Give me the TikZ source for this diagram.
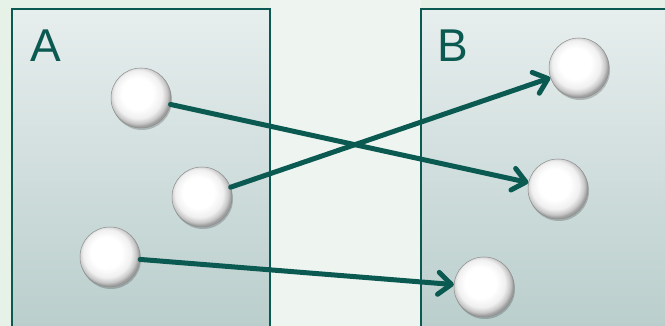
\documentclass[tikz,border=0pt]{standalone}
\usepackage{fontspec}
\setmainfont{Liberation Sans}
\usetikzlibrary{arrows.meta,shadows}
\definecolor{teal1}{HTML}{0B5A52}
\definecolor{bgcol}{HTML}{E6F1E8}
\definecolor{boxtop}{HTML}{E7EEEE}
\definecolor{boxbot}{HTML}{B8CDCB}
\pgfdeclareradialshading{pearl}{\pgfpoint{-4bp}{5bp}}{%
  color(0bp)=(white); color(13bp)=(white); color(20bp)=(black!6);
  color(24bp)=(black!22); color(26bp)=(black!38); color(50bp)=(black!38)}
\tikzset{
  ball/.style={circle, minimum size=60pt, inner sep=0pt, draw=black!45, line width=0.5pt,
    shading=pearl,
    drop shadow={shadow xshift=1pt, shadow yshift=-2pt, opacity=0.2, fill=black}},
  panel/.style={draw=teal1, line width=1.5pt, top color=boxtop, bottom color=boxbot},
  label/.style={text=teal1, font=\fontsize{46}{46}\selectfont, anchor=base west, inner sep=0pt},
  link/.style={draw=teal1, line width=5pt, line cap=round,
    -{Straight Barb[length=13pt,width=22pt,round]}}
}
\begin{document}
\begin{tikzpicture}[x=1pt,y=-1pt]
\useasboundingbox (0,0) rectangle (665,326);
\clip (0,0) rectangle (665,326);
\fill[bgcol] (0,0) rectangle (665,326);
\fill[white, opacity=0.35] (270,0) rectangle (421,326);
\path[panel] (12,9) rectangle (270,340);
\path[panel] (421,9) rectangle (680,340);
\node[label] (la) at (30,62) {A};
\node[label] (lb) at (437,62) {B};
\node[ball] (a1) at (141,98) {};
\node[ball] (a2) at (202,197) {};
\node[ball] (a3) at (110,257) {};
\node[ball] (b1) at (579,68) {};
\node[ball] (b2) at (558,189) {};
\node[ball] (b3) at (484,287) {};
\draw[link] (a1) -- (b2);
\draw[link] (a2) -- (b1);
\draw[link] (a3) -- (b3);
\end{tikzpicture}
\end{document}
